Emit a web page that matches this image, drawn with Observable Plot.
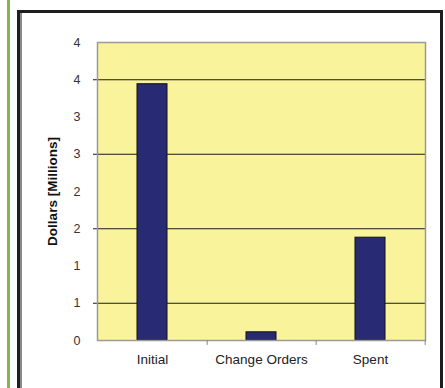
<!DOCTYPE html>
<html>
<head>
<meta charset="utf-8">
<script src="https://cdn.jsdelivr.net/npm/d3@7"></script>
<script src="https://cdn.jsdelivr.net/npm/@observablehq/plot@0.6"></script>
<style>
  html, body { margin: 0; padding: 0; background: #fff; }
  #wrap { position: relative; width: 445px; height: 388px; overflow: hidden; background: #fff; }
  .deco { position: absolute; }
  #green { left: 7px; top: 0; width: 3px; height: 388px; background: #86b351; }
  #box { left: 17px; top: 10px; width: 420px; height: 400px;
         border-left: 3px solid #1e1e1e; border-top: 3px solid #1e1e1e; border-right: 3px solid #1e1e1e; }
  #shade { left: 20px; top: 13px; width: 2px; height: 380px; background: #8a8a8a; }
  #chart { position: absolute; left: 0; top: 0; }
</style>
</head>
<body>
<div id="wrap">
  <div class="deco" id="green"></div>
  <div class="deco" id="box"></div>
  <div class="deco" id="shade"></div>
  <div id="chart"></div>
</div>
<script>
// Project budget in millions of dollars
const categories = ["Initial", "Change Orders", "Spent"];
const values = [3.44, 0.11, 1.38];

// Axis ticks every half million; labels rounded to whole numbers
const yTicks = [0, 0.5, 1, 1.5, 2, 2.5, 3, 3.5, 4];
const gridValues = [0.5, 1.5, 2.5, 3.5];
const yTitle = "Dollars [Millions]";

const rows = categories.map((category, i) => ({category, value: values[i]}));

const W = 445, H = 388;
const mL = 97, mR = 20, mT = 42, mB = 48;
const halfStep = (W - mL - mR) / categories.length / 2;

const chart = Plot.plot({
  width: W,
  height: H,
  marginLeft: mL,
  marginRight: mR,
  marginTop: mT,
  marginBottom: mB,
  style: {
    background: "transparent",
    fontFamily: "'Liberation Sans', Arial, sans-serif",
    fontSize: "13px",
    color: "#222"
  },
  x: {domain: categories, paddingInner: 0.725, paddingOuter: 0.3625, axis: null},
  y: {domain: [0, 4], axis: null},
  marks: [
    Plot.frame({fill: "#f9f39c"}),
    Plot.ruleY(gridValues, {stroke: "#1a1a1a", insetLeft: -4}),
    Plot.barY(rows, {x: "category", y: "value", fill: "#282a73", stroke: "#111", strokeWidth: 1}),
    Plot.frame({stroke: "#9a9a9a", strokeWidth: 1.5}),
    Plot.ruleX(categories, {x: d => d, dx: halfStep, y1: 0, y2: 0, insetBottom: -5, stroke: "#888"}),
    Plot.axisY(yTicks, {tickSize: 0, tickPadding: 17, tickFormat: d => Math.round(d), label: null, fill: "#333", fontSize: 12.5}),
    Plot.axisX({tickSize: 0, tickPadding: 14, label: null, fill: "#222", fontSize: 13.5}),
    Plot.text([yTitle], {frameAnchor: "left", textAnchor: "middle", rotate: -90, dx: -45, fontWeight: "bold", fontSize: 13.5, fill: "#111"})
  ]
});

document.getElementById("chart").appendChild(chart);
</script>
</body>
</html>
